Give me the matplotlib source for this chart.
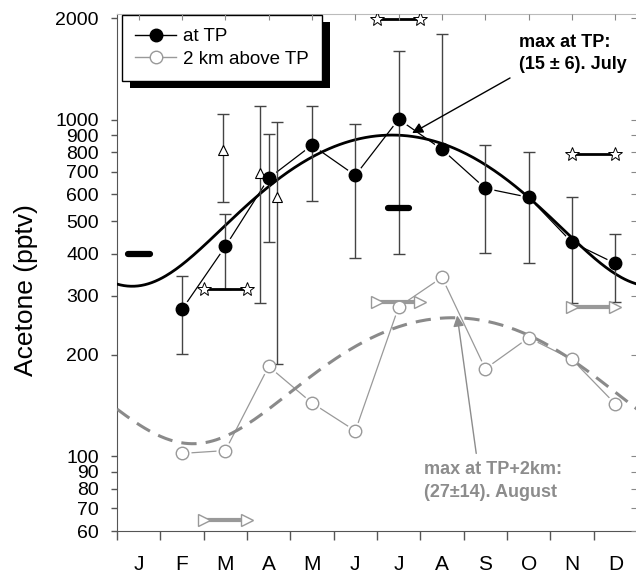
import numpy as np
import matplotlib
matplotlib.use('Agg')
import matplotlib.pyplot as plt
from matplotlib.lines import Line2D
from matplotlib.patches import Rectangle
from matplotlib.ticker import NullLocator
from matplotlib.transforms import IdentityTransform

plt.rcParams['font.family'] = ['Liberation Sans', 'DejaVu Sans']

months = ['J', 'F', 'M', 'A', 'M', 'J', 'J', 'A', 'S', 'O', 'N', 'D']
yticks = [60, 70, 80, 90, 100, 200, 300, 400, 500, 600, 700, 800, 900, 1000, 2000]

# acetone at the tropopause, Feb..Dec (month centres)
tp_x = [1.5, 2.5, 3.5, 4.5, 5.5, 6.5, 7.5, 8.5, 9.5, 10.5, 11.5]
tp_val = [273, 420, 670, 840, 683, 1003, 816, 625, 588, 432, 374]
tp_hi = [343, 523, 906, 1097, 970, 1600, 1796, 840, 800, 590, 456]
tp_lo = [201, 315, 432, 575, 389, 400, 816, 402, 374, 285, 288]

# 2 km above the tropopause
up_x = tp_x
up_val = [102, 104, 185, 144, 119, 278, 340, 182, 225, 194, 143]

# other campaigns
tri_x = [2.45, 3.30, 3.69]
tri_val = [810, 694, 588]
tri_hi = [1036, 1098, 984]
tri_lo = [568, 285, 188]

star_x = [(2.0, 3.0), (6.0, 7.0), (10.5, 11.5)]
star_val = [314, 1990, 788]

rtri_x = [(2.0, 3.0), (6.0, 7.0), (10.5, 11.5)]
rtri_val = [64.7, 288, 278]

bar_x = [(0.25, 0.75), (6.25, 6.75)]
bar_val = [400, 545]

# seasonal fits: mean, amplitude, month of maximum
fit_tp = (610, 290, 6.35)
fit_up = (183.5, 74.5, 7.75)

gray = '#999999'

fig = plt.figure(figsize=(6.36, 5.76), dpi=100)
ax = fig.add_axes([117 / 636, 45 / 576, 520 / 636, 517 / 576])
ax.set_yscale('log')
ax.set_xlim(0, 12)
ax.set_ylim(60, 2060)

# fits
xs = np.linspace(0, 12, 300)
m, a, p = fit_tp
ax.plot(xs, m + a * np.cos(2 * np.pi * (xs - p) / 12), color='black', lw=2, zorder=3)
m, a, p = fit_up
ax.plot(xs, m + a * np.cos(2 * np.pi * (xs - p) / 12), color='#8a8a8a', lw=2.2,
        dashes=(5, 3), zorder=3)

# connecting lines with a small gap at each marker
ax.plot(tp_x, tp_val, color='black', lw=0.9, zorder=2)
ax.plot(up_x, up_val, color=gray, lw=0.9, zorder=2)
ax.plot(tp_x, tp_val, 'o', ms=13, mfc='white', mec='none', zorder=2.5)
ax.plot(up_x, up_val, 'o', ms=13, mfc='white', mec='none', zorder=2.5)

# error bars
ax.errorbar(tp_x, tp_val,
            yerr=[np.subtract(tp_val, tp_lo), np.subtract(tp_hi, tp_val)],
            fmt='none', ecolor='#444444', elinewidth=1, capsize=4, capthick=1, zorder=3)
ax.errorbar(tri_x, tri_val,
            yerr=[np.subtract(tri_val, tri_lo), np.subtract(tri_hi, tri_val)],
            fmt='none', ecolor='#444444', elinewidth=1, capsize=4, capthick=1, zorder=3)
ax.plot(tri_x, tri_val, '^', ms=7, mfc='white', mec='black', mew=0.8, zorder=4)

ax.plot(tp_x, tp_val, 'o', ms=9, mfc='black', mec='black', zorder=4)
ax.plot(up_x, up_val, 'o', ms=9, mfc='white', mec=gray, mew=1, zorder=4)

for (x0, x1), v in zip(star_x, star_val):
    ax.plot([x0, x1], [v, v], color='black', lw=2, zorder=3)
    ax.plot([x0, x1], [v, v], '*', ms=10, mfc='white', mec='black', mew=0.7, zorder=4)

for (x0, x1), v in zip(rtri_x, rtri_val):
    ax.plot([x0, x1], [v, v], color=gray, lw=3, zorder=3)
    ax.plot([x0, x1], [v, v], '>', ms=8, mfc='white', mec=gray, mew=1, zorder=4)

for (x0, x1), v in zip(bar_x, bar_val):
    ax.plot([x0, x1], [v, v], color='black', lw=4.5, solid_capstyle='round', zorder=3)

# annotations
ax.text(9.28, 1800, 'max at TP:\n(15 \u00b1 6). July', fontsize=13, fontweight='bold',
        ha='left', va='top', linespacing=1.4, zorder=6)
ax.annotate('', xy=(6.81, 912), xytext=(9.07, 1330),
            arrowprops=dict(arrowstyle='-|>', color='black', lw=1, mutation_scale=16,
                            shrinkA=0, shrinkB=0), zorder=6)
ax.text(7.09, 97, 'max at TP+2km:\n(27\u00b114). August', fontsize=13, fontweight='bold',
        color='#8c8c8c', ha='left', va='top', linespacing=1.45, zorder=6)
ax.annotate('', xy=(7.85, 262), xytext=(8.29, 102),
            arrowprops=dict(arrowstyle='-|>', color='#8c8c8c', lw=1, mutation_scale=16,
                            shrinkA=0, shrinkB=0), zorder=6)

# axes
ax.set_yticks(yticks)
ax.set_yticklabels([str(t) for t in yticks])
ax.yaxis.set_minor_locator(NullLocator())
ax.tick_params(axis='y', which='major', direction='out', length=4, width=1,
               color='#555555', labelsize=14, pad=9)
ax.set_xticks(range(13))
ax.set_xticklabels([])
ax.set_xticks(np.arange(0.5, 12, 1), minor=True)
ax.set_xticklabels(months, minor=True)
ax.tick_params(axis='x', which='major', direction='out', length=6.5, width=1, color='#555555')
ax.tick_params(axis='x', which='minor', length=0, labelsize=15, pad=17)
ax.set_ylabel('Acetone (pptv)', fontsize=19)
ax.yaxis.set_label_coords(-0.152, 0.466)
for s in ['left', 'bottom']:
    ax.spines[s].set_color('#555555')
ax.spines['top'].set_color('#bbbbbb')
ax.spines['right'].set_visible(False)

tw = ax.twiny()
tw.set_xlim(0, 12)
tw.set_xticks(np.arange(0.5, 12, 1))
tw.set_xticklabels([])
tw.tick_params(axis='x', direction='in', length=4, color='#888888')
ty = ax.twinx()
ty.set_yscale('log')
ty.set_ylim(60, 2060)
ty.set_yticks(yticks)
ty.set_yticklabels([])
ty.yaxis.set_minor_locator(NullLocator())
ty.tick_params(axis='y', which='both', direction='in', length=4, color='#888888')
for t in (tw, ty):
    for s in t.spines.values():
        s.set_visible(False)

# legend with a solid drop shadow
h1 = Line2D([], [], color='black', lw=1, marker='o', ms=9, mfc='black', mec='black')
h2 = Line2D([], [], color=gray, lw=1, marker='o', ms=9, mfc='white', mec=gray)
leg = ax.legend([h1, h2], ['at TP', '2 km above TP'], loc='upper left',
                bbox_to_anchor=(0.0096, 0.998), borderaxespad=0, fontsize=13.5,
                fancybox=False, edgecolor='black', framealpha=1, handlelength=2.2,
                handletextpad=0.35, borderpad=0.7, labelspacing=0.3)
leg.get_frame().set_linewidth(1)
leg.set_zorder(8)
fig.canvas.draw()
bb = leg.get_window_extent()
ax.add_artist(Rectangle((bb.x0 + 8, bb.y0 - 7), bb.width, bb.height,
                        transform=IdentityTransform(), fc='black', ec='none',
                        zorder=7, clip_on=False))

fig.savefig('out.png', dpi=100)
